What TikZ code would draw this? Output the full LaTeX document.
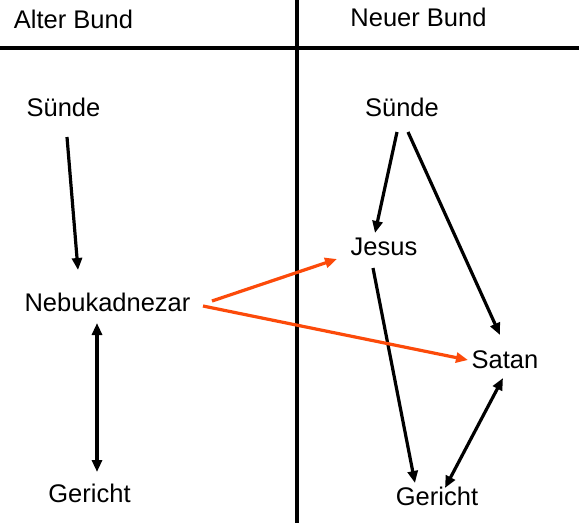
\documentclass[tikz,border=0pt]{standalone}
\usepackage{fontspec}
\setmainfont{Liberation Sans}
\usetikzlibrary{calc,arrows.meta}
\definecolor{redorange}{RGB}{252,74,10}
\begin{document}
\begin{tikzpicture}[x=1pt,y=-1pt,
  lbl/.style={inner sep=0pt,anchor=base,font=\fontsize{25.5}{30}\selectfont},
  tip/.style={},
  conn/.style={line width=3.2pt,-{Triangle[length=12pt,width=10pt]}},
  dconn/.style={line width=3.2pt,{Triangle[length=12pt,width=10pt]}-{Triangle[length=12pt,width=10pt]}},
  oconn/.style={line width=3.2pt,draw=redorange,-{Triangle[length=12pt,width=10pt]},redorange}]
\useasboundingbox (0,0) rectangle (579,523);
\fill[white] (0,0) rectangle (579,523);
% frame lines
\coordinate (hl) at (0,48);
\coordinate (hr) at (579,48);
\coordinate (vt) at (297,0);
\coordinate (vb) at (297,523);
\draw[line width=3.4pt] (hl) -- (hr);
\draw[line width=3.4pt] (vt) -- (vb);
% headings
\node[lbl] (alt) at (73.5,28) {Alter Bund};
\node[lbl] (neu) at (418.5,26) {Neuer Bund};
% left column
\node[lbl] (ls) at (63.5,116) {Sünde};
\node[lbl] (neb) at (107.5,311) {Nebukadnezar};
\node[lbl] (lg) at (89.5,502) {Gericht};
% right column
\node[lbl] (rs) at (402,116) {Sünde};
\node[lbl] (jesus) at (384,255) {Jesus};
\node[lbl] (satan) at (505,368) {Satan};
\node[lbl] (rg) at (437,505) {Gericht};
% connectors
\draw[conn] ($(ls.base)+(3.5,21)$) -- ($(neb.base)+(-29.5,-41)$);
\draw[dconn] ($(neb.base)+(-10.5,12)$) -- ($(lg.base)+(7.5,-30)$);
\draw[conn] ($(rs.base)+(-5,16)$) -- ($(jesus.base)+(-9,-22)$);
\draw[conn] ($(rs.base)+(6,16)$) -- ($(satan.base)+(-5,-33)$);
\draw[conn] ($(jesus.base)+(-11,13)$) -- ($(rg.base)+(-22,-22)$);
\draw[dconn] ($(satan.base)+(-2,10)$) -- ($(rg.base)+(8,-17)$);
\draw[oconn] ($(neb.base)+(104.5,-10)$) -- ($(jesus.base)+(-47,4)$);
\draw[oconn] ($(neb.base)+(95.5,-5)$) -- ($(satan.base)+(-37,-8)$);
\end{tikzpicture}
\end{document}
